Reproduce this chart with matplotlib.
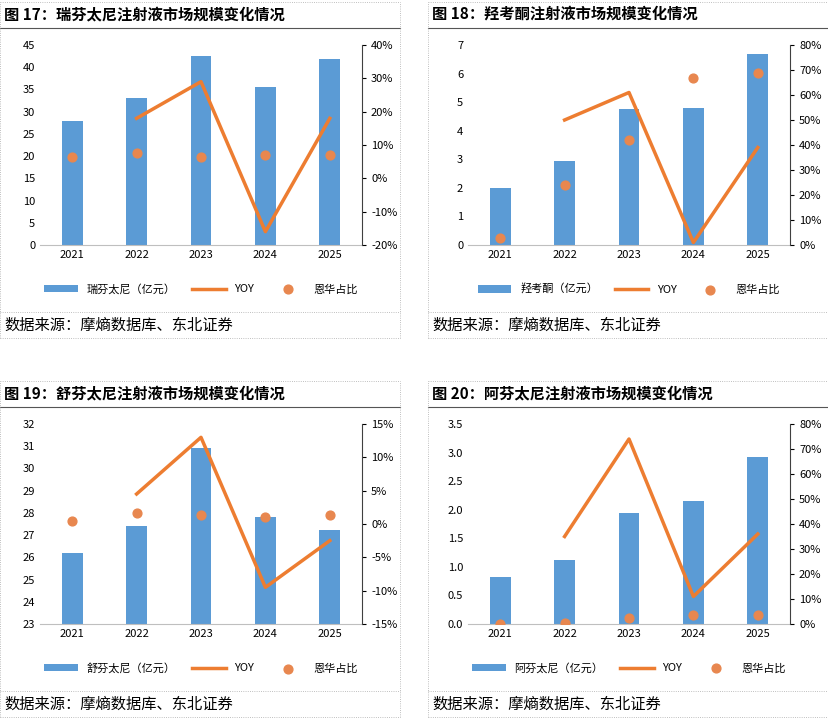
import matplotlib.pyplot as plt
import numpy as np
from matplotlib.lines import Line2D
from matplotlib.ticker import FuncFormatter

plt.rcParams['font.family'] = ['Noto Sans CJK SC', 'DejaVu Sans']

years = ['2021', '2022', '2023', '2024', '2025']

# 图17 瑞芬太尼
bar17 = [28.0, 33.0, 42.6, 35.5, 41.8]
yoy17 = [np.nan, 18, 29, -16, 18]
share17 = [6.5, 7.5, 6.5, 7.0, 7.0]
# 图18 羟考酮
bar18 = [2.0, 2.95, 4.75, 4.8, 6.7]
yoy18 = [np.nan, 50, 61, 1, 39]
share18 = [3, 24, 42, 67, 69]
# 图19 舒芬太尼
bar19 = [26.2, 27.4, 30.9, 27.8, 27.25]
yoy19 = [np.nan, 4.5, 13, -9.5, -2.5]
share19 = [0.5, 1.7, 1.3, 1.0, 1.3]
# 图20 阿芬太尼
bar20 = [0.83, 1.12, 1.95, 2.15, 2.92]
yoy20 = [np.nan, 35, 74, 11, 36]
share20 = [0.0, 0.3, 2.5, 3.5, 3.5]

BLUE = '#5b9bd5'
ORANGE = '#ed7d31'
DOT = '#e8874f'

W, H = 829, 721
fig = plt.figure(figsize=(8.29, 7.21), dpi=100)


def fx(px):
    return px / W


def fy(py):
    return 1 - py / H


panels = [
    ('图 17：瑞芬太尼注射液市场规模变化情况', '瑞芬太尼（亿元）', bar17, yoy17, share17,
     (0, 45, 5), (-20, 40, 10), 0, 0),
    ('图 18：羟考酮注射液市场规模变化情况', '羟考酮（亿元）', bar18, yoy18, share18,
     (0, 7, 1), (0, 80, 10), 428, 0),
    ('图 19：舒芬太尼注射液市场规模变化情况', '舒芬太尼（亿元）', bar19, yoy19, share19,
     (23, 32, 1), (-15, 15, 5), 0, 379),
    ('图 20：阿芬太尼注射液市场规模变化情况', '阿芬太尼（亿元）', bar20, yoy20, share20,
     (0, 3.5, 0.5), (0, 80, 10), 428, 379),
]

for title, barlabel, bars, yoy, share, ll, rl, x0, y0 in panels:
    pw = 400
    # title and frame lines
    fig.text(fx(x0 + 4), fy(y0 + 14), title, fontsize=11, fontweight='bold', va='center')
    fig.add_artist(Line2D([fx(x0), fx(x0 + pw)], [fy(y0 + 28)] * 2, color='#555555', lw=0.8))
    fig.add_artist(Line2D([fx(x0), fx(x0 + pw)], [fy(y0 + 312)] * 2, color='#aaaaaa', lw=0.6, ls=':'))
    fig.add_artist(Line2D([fx(x0), fx(x0 + pw)], [fy(y0 + 338)] * 2, color='#aaaaaa', lw=0.6, ls=':'))
    for xx in (x0, x0 + pw):
        fig.add_artist(Line2D([fx(xx)] * 2, [fy(y0 + 338), fy(y0 + 2)], color='#aaaaaa', lw=0.6, ls=':'))
    fig.add_artist(Line2D([fx(x0), fx(x0 + pw)], [fy(y0 + 2)] * 2, color='#aaaaaa', lw=0.6, ls=':'))
    fig.text(fx(x0 + 4), fy(y0 + 325), '数据来源：摩熵数据库、东北证券', fontsize=11, va='center')

    ax = fig.add_axes([fx(x0 + 40), fy(y0 + 245), fx(322), fy(0) - fy(200)])
    x = np.arange(5)
    b = ax.bar(x, bars, width=0.32, color=BLUE, label=barlabel)
    ax.set_ylim(ll[0], ll[1])
    ax.set_yticks(np.arange(ll[0], ll[1] + ll[2] / 2, ll[2]))
    if ll[2] < 1:
        ax.yaxis.set_major_formatter(FuncFormatter(lambda v, p: f'{v:.1f}'))
    ax.set_xticks(x)
    ax.set_xticklabels(years)
    ax.set_xlim(-0.5, 4.5)
    for s in ('top', 'right', 'left'):
        ax.spines[s].set_visible(False)
    ax.spines['bottom'].set_color('#bfbfbf')
    ax.tick_params(length=0, labelsize=8)

    ax2 = ax.twinx()
    l, = ax2.plot(x, yoy, color=ORANGE, lw=2.5, label='YOY')
    d = ax2.scatter(x, share, color=DOT, s=40, zorder=5, label='恩华占比')
    ax2.set_ylim(rl[0], rl[1])
    ax2.set_yticks(np.arange(rl[0], rl[1] + 1, rl[2]))
    ax2.yaxis.set_major_formatter(FuncFormatter(lambda v, p: f'{v:.0f}%'))
    for s in ('top', 'left', 'bottom'):
        ax2.spines[s].set_visible(False)
    ax2.spines['right'].set_color('#404040')
    ax2.tick_params(labelsize=8, length=3)

    ax.legend([b, l, d], [barlabel, 'YOY', '恩华占比'], loc='center',
              bbox_to_anchor=(0.5, -0.22), ncol=3, frameon=False, fontsize=8,
              handlelength=3, columnspacing=1.5)

fig.savefig('out.png', dpi=100)
